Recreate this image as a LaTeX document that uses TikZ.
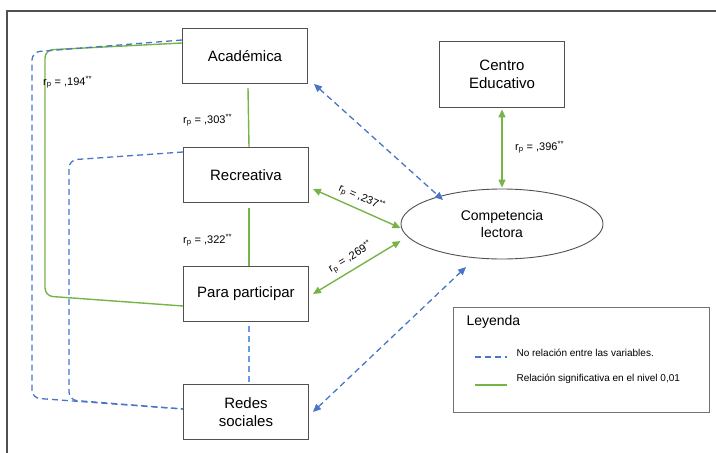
\documentclass[tikz,border=0pt]{standalone}
\usepackage{fontspec}
\setmainfont{Liberation Sans}
\usetikzlibrary{shapes.geometric,arrows.meta}

\definecolor{sigGreen}{RGB}{118,180,72}
\definecolor{noBlue}{RGB}{74,116,200}
\definecolor{noLightBlue}{RGB}{105,155,228}
\definecolor{boxGray}{RGB}{80,80,80}

\tikzset{
    varbox/.style={draw=boxGray, line width=0.9pt, minimum width=125pt, minimum height=55pt,
        align=center, font=\fontsize{15}{18}\selectfont},
    sig/.style={draw=sigGreen, line width=1.4pt},
    nosig/.style={draw=noBlue, line width=1.3pt, dash pattern=on 6pt off 4pt},
    corr/.style={font=\fontsize{11}{13}\selectfont, inner sep=1pt},
}
\newcommand{\rp}[1]{r\textsubscript{p} = ,#1\textsuperscript{**}}

\begin{document}
\begin{tikzpicture}[x=1pt,y=-1pt, >={Triangle[length=8pt,width=7pt]}]
    \useasboundingbox (0,0) rectangle (716,453);
    % marco
    \draw[boxGray, line width=1.3pt] (716,11) -- (7,11) -- (7,453);

    \node[varbox] (ac) at (245,56) {Académica};
    \node[varbox] (rec) at (246,175) {Recreativa};
    \node[varbox] (par) at (246,294) {Para participar};
    \node[varbox] (red) at (246,412) {Redes\\sociales};
    \node[varbox, minimum height=66pt] (ce) at (502,74) {Centro\\Educativo};
    \node[ellipse, draw=boxGray, line width=0.9pt, minimum width=202pt, minimum height=70pt,
        align=center, font=\fontsize{14}{17}\selectfont] (lec) at (502,224) {Competencia\\lectora};

    % relaciones entre dimensiones
    \draw[sig] ([xshift=3pt,yshift=-4pt]ac.south) -- ([xshift=3pt]rec.north);
    \draw[sig] ([xshift=3pt,yshift=-5pt]rec.south) -- ([xshift=3pt]par.north);
    \draw[noLightBlue, line width=1.1pt, dash pattern=on 6pt off 4pt] ([xshift=3pt,yshift=-4pt]par.south) -- ([xshift=3pt]red.north);
    \draw[sig, rounded corners=8pt] ([yshift=13pt]ac.west) -- (45,50) -- (45,296) -- ([yshift=-12pt]par.west);
    \draw[nosig, rounded corners=8pt] ([yshift=16pt]ac.west) -- (32,52) -- (32,398) -- ([yshift=3pt]red.west);
    \draw[nosig, rounded corners=8pt] ([yshift=23pt]rec.west) -- (69,160) -- (69,400) -- ([yshift=3pt]red.west);

    \node[corr, anchor=west] (l194) at (42,82) {\rp{194}};
    \node[corr, anchor=west] (l303) at (182,120) {\rp{303}};
    \node[corr, anchor=west] (l322) at (182,240) {\rp{322}};
    \node[corr, anchor=west] (l396) at (514,147) {\rp{396}};

    % relaciones con la competencia lectora
    \draw[sig, <->, shorten <=2pt, shorten >=1pt] (ce.south) -- (lec.north);
    \draw[sig, <->] ([xshift=4pt,yshift=-14pt]rec.east) -- ([yshift=-4pt]lec.west)
        node[corr, midway, sloped, above=4pt] {\rp{237}};
    \draw[sig, <->] ([xshift=4pt]par.east) -- ([yshift=-17pt]lec.west)
        node[corr, midway, sloped, above=4pt] {\rp{269}};
    \draw[nosig, <->] ([xshift=6pt]ac.south east) -- ([xshift=-59pt,yshift=24pt]lec.center);
    \draw[nosig, <->] ([xshift=4pt]red.east) -- ([xshift=-36pt,yshift=-43pt]lec.center);

    % leyenda
    \node[draw=boxGray!80, line width=0.9pt, minimum width=256pt, minimum height=105pt] (ley) at (581,359.5) {};
    \node[anchor=west, font=\fontsize{14}{16}\selectfont] (leyt) at (463,322) {Leyenda};
    \coordinate (d1) at (475,357);
    \coordinate (d2) at (507,357);
    \coordinate (s1) at (475,385);
    \coordinate (s2) at (507,385);
    \draw[nosig] (d1) -- (d2);
    \draw[sig, line width=1.1pt] (s1) -- (s2);
    \node[anchor=west, font=\fontsize{10}{12}\selectfont] (leyd) at (513,353) {No relación entre las variables.};
    \node[anchor=west, font=\fontsize{10}{12}\selectfont] (leys) at (513,379) {Relación significativa en el nivel 0,01};
\end{tikzpicture}
\end{document}
